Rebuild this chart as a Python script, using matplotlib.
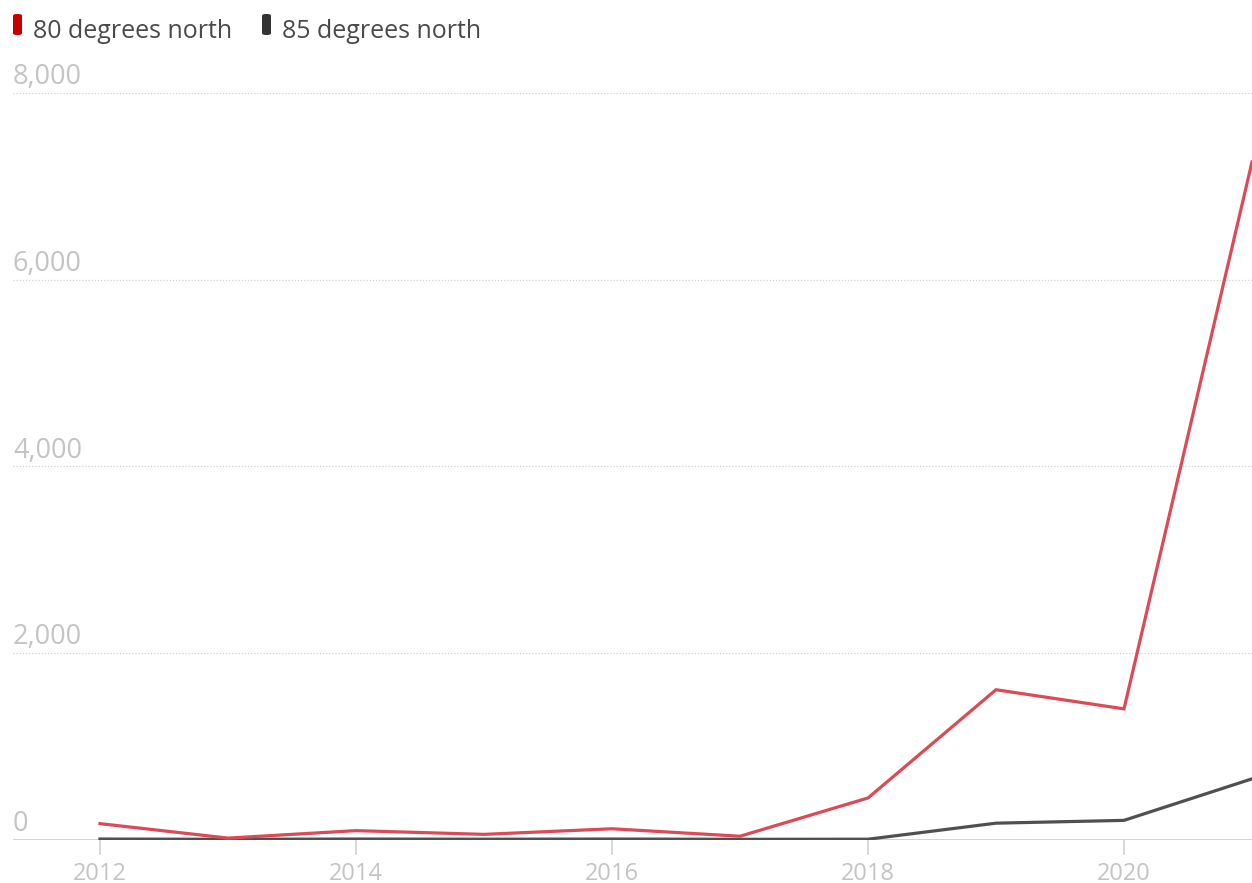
import matplotlib
matplotlib.use("Agg")
import matplotlib.pyplot as plt
from matplotlib.patches import FancyBboxPatch
from matplotlib.transforms import blended_transform_factory, offset_copy

plt.rcParams['font.family'] = ['Open Sans', 'DejaVu Sans']

years = [2012, 2013, 2014, 2015, 2016, 2017, 2018, 2019, 2020, 2021]
north_80 = [170, 15, 95, 55, 115, 35, 445, 1605, 1400, 7260]
north_85 = [5, 2, 5, 3, 5, 2, 3, 175, 205, 650]
series_labels = ["80 degrees north", "85 degrees north"]
y_ticks = [0, 2000, 4000, 6000, 8000]
x_ticks = [2012, 2014, 2016, 2018, 2020]

red = '#dc4a55'
dark = '#505050'
chip_red = '#c70000'
chip_dark = '#333333'
grid_c = '#d2d2d2'
label_c = '#c4c4c4'

W, H = 1252, 883
fig = plt.figure(figsize=(W / 100, H / 100), dpi=100)
left_px, base_px, top_px = 13, 839.5, 93
ax = fig.add_axes([left_px / W, (H - base_px) / H, 1 - left_px / W, (base_px - top_px) / H])

ax.plot(years, north_85, color=dark, lw=2.3, solid_joinstyle='miter', zorder=3)
ax.plot(years, north_80, color=red, lw=2.3, solid_joinstyle='miter', zorder=4)

ax.set_xlim(2012 - (100 - left_px) / 128, 2021)
ax.set_ylim(0, 8000)

for s in ax.spines.values():
    s.set_visible(False)
ax.set_yticks([])
ax.set_xticks(x_ticks)
ax.set_xticklabels([])
ax.tick_params(axis='x', length=11, width=1.2, color=grid_c)

# gridlines and baseline
for v in y_ticks:
    if v == 0:
        ax.axhline(v, color=grid_c, lw=1.4, zorder=1)
    else:
        ax.axhline(v, color=grid_c, lw=0.9, ls=(0, (1, 1.5)), zorder=1)

# value labels sit just above their gridlines
trans_y = blended_transform_factory(ax.transAxes, ax.transData)
trans_y = offset_copy(trans_y, fig=fig, x=0, y=8.5, units='dots')
for v in y_ticks:
    ax.text(0.0, v, f"{v:,}", transform=trans_y, ha='left', va='baseline',
            fontsize=19.5, color=label_c)

# year labels below the baseline
trans_x = blended_transform_factory(ax.transData, ax.transAxes)
trans_x = offset_copy(trans_x, fig=fig, x=0, y=-40, units='dots')
for x in x_ticks:
    ax.text(x, 0.0, str(x), transform=trans_x, ha='center', va='baseline',
            fontsize=17, color=label_c)

# legend
chips = [(13, chip_red, 33, series_labels[0]), (262, chip_dark, 282, series_labels[1])]
for cx, cc, tx, txt in chips:
    patch = FancyBboxPatch((cx / W, 1 - 35 / H), 9 / W, 21 / H,
                           boxstyle="round,pad=0,rounding_size=0.003",
                           transform=fig.transFigure, facecolor=cc,
                           edgecolor='none', mutation_aspect=H / W)
    fig.patches.append(patch)
    fig.text(tx / W, 1 - 38 / H, txt, fontsize=18, color='#4a4a4a',
             ha='left', va='baseline')

fig.savefig('out.png', dpi=100)
